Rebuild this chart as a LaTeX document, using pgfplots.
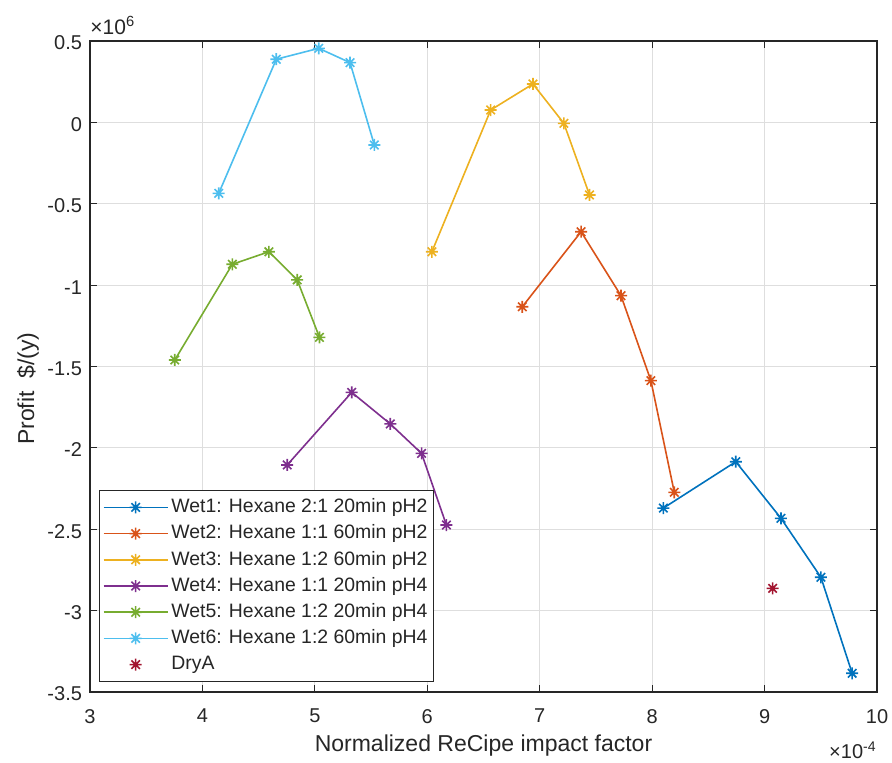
\documentclass[border=0pt]{standalone}
\usepackage{fontspec}
\setmainfont{Liberation Sans}
\usepackage{pgfplots}
\pgfplotsset{compat=1.18}

% MATLAB default line colours
\definecolor{c1}{rgb}{0,0.447,0.741}
\definecolor{c2}{rgb}{0.85,0.325,0.098}
\definecolor{c3}{rgb}{0.929,0.694,0.125}
\definecolor{c4}{rgb}{0.494,0.184,0.556}
\definecolor{c5}{rgb}{0.466,0.674,0.188}
\definecolor{c6}{rgb}{0.301,0.745,0.933}
\definecolor{c7}{rgb}{0.635,0.078,0.184}
\definecolor{gridgray}{rgb}{0.87,0.87,0.87}
\definecolor{axisgray}{rgb}{0.15,0.15,0.15}

% eight-armed star marker
\pgfdeclareplotmark{mstar}{%
  \pgfpathmoveto{\pgfqpoint{-\pgfplotmarksize}{0pt}}%
  \pgfpathlineto{\pgfqpoint{\pgfplotmarksize}{0pt}}%
  \pgfpathmoveto{\pgfqpoint{0pt}{-\pgfplotmarksize}}%
  \pgfpathlineto{\pgfqpoint{0pt}{\pgfplotmarksize}}%
  \pgfpathmoveto{\pgfqpoint{-.7071\pgfplotmarksize}{-.7071\pgfplotmarksize}}%
  \pgfpathlineto{\pgfqpoint{.7071\pgfplotmarksize}{.7071\pgfplotmarksize}}%
  \pgfpathmoveto{\pgfqpoint{-.7071\pgfplotmarksize}{.7071\pgfplotmarksize}}%
  \pgfpathlineto{\pgfqpoint{.7071\pgfplotmarksize}{-.7071\pgfplotmarksize}}%
  \pgfusepathqstroke}

\begin{document}
\begin{tikzpicture}
\useasboundingbox (0,0) rectangle (446pt,381.5pt);
\begin{axis}[
  at={(45pt,35.5pt)}, anchor=south west,
  scale only axis, width=393.5pt, height=325.5pt,
  xmin=3, xmax=10, ymin=-3.5, ymax=0.5,
  xtick={3,4,5,6,7,8,9,10},
  ytick={-3.5,-3,-2.5,-2,-1.5,-1,-0.5,0,0.5},
  yticklabels={-3.5,-3,-2.5,-2,-1.5,-1,-0.5,0,0.5},
  scaled ticks=false,
  clip mode=individual,
  /pgf/number format/assume math mode=true,
  tick label style={font=\fontsize{10pt}{11pt}\selectfont, text=axisgray},
  xticklabel style={yshift=-5pt},
  yticklabel style={yshift=-1pt, xshift=-0.5pt},
  label style={font=\fontsize{11.5pt}{13pt}\selectfont, text=axisgray},
  xlabel={Normalized ReCipe impact factor},
  ylabel={Profit\ \ \$/(y)},
  xlabel style={at={(axis description cs:0.5,-0.083)}, anchor=center},
  ylabel style={at={(axis description cs:-0.0788,0.466)}, anchor=center},
  grid=major,
  major grid style={gridgray, line width=0.5pt},
  axis line style={axisgray, line width=0.6pt},
  tick align=inside, tick pos=both,
  major tick length=3.5pt,
  tick style={axisgray, line width=0.6pt},
  every axis plot/.append style={line width=0.8pt, mark=mstar, mark size=3pt},
  legend cell align=left,
  legend style={
    at={(axis description cs:0.0118,0.0149)}, anchor=south west,
    draw=axisgray, line width=0.6pt, fill=white,
    font=\fontsize{9.7pt}{11pt}\selectfont,
    row sep=0pt, inner xsep=1.5pt, inner ysep=2pt,
    nodes={text height=7.2pt, text depth=2pt, inner ysep=1.95pt, inner xsep=1.5pt, text=black!85},
  },
  legend image code/.code={%
    \draw[mark repeat=2, mark phase=2] plot coordinates {(0pt,0pt) (16pt,0pt) (32pt,0pt)};},
]
\addplot[c1] coordinates {(8.10,-2.37) (8.744,-2.085) (9.146,-2.433) (9.501,-2.795) (9.779,-3.385)};
\addlegendentry{Wet1: Hexane 2:1 20min pH2}
\addplot[c2] coordinates {(6.845,-1.133) (7.368,-0.672) (7.723,-1.065) (7.989,-1.587) (8.197,-2.273)};
\addlegendentry{Wet2: Hexane 1:1 60min pH2}
\addplot[c3] coordinates {(6.041,-0.795) (6.564,0.076) (6.940,0.236) (7.215,-0.006) (7.443,-0.446)};
\addlegendentry{Wet3: Hexane 1:2 60min pH2}
\addplot[c4] coordinates {(4.754,-2.105) (5.328,-1.659) (5.671,-1.853) (5.949,-2.034) (6.170,-2.474)};
\addlegendentry{Wet4: Hexane 1:1 20min pH4}
\addplot[c5] coordinates {(3.754,-1.460) (4.266,-0.872) (4.591,-0.795) (4.843,-0.968) (5.041,-1.321)};
\addlegendentry{Wet5: Hexane 1:2 20min pH4}
\addplot[c6] coordinates {(4.145,-0.436) (4.657,0.388) (5.035,0.455) (5.313,0.367) (5.529,-0.139)};
\addlegendentry{Wet6: Hexane 1:2 60min pH4}
\addplot[c7, only marks] coordinates {(9.072,-2.863)};
\addlegendentry{DryA}
% exponent labels of the two axes
\node[anchor=south west, text=axisgray, font=\fontsize{10.5pt}{11pt}\selectfont, inner sep=0pt]
  at (rel axis cs:0,1) [yshift=3pt] {×10\textsuperscript{6}};
\node[anchor=east, text=axisgray, font=\fontsize{10pt}{11pt}\selectfont, inner sep=0pt]
  at (rel axis cs:1,0) [yshift=-29pt] {×10\textsuperscript{-4}};
\end{axis}
\end{tikzpicture}
\end{document}
